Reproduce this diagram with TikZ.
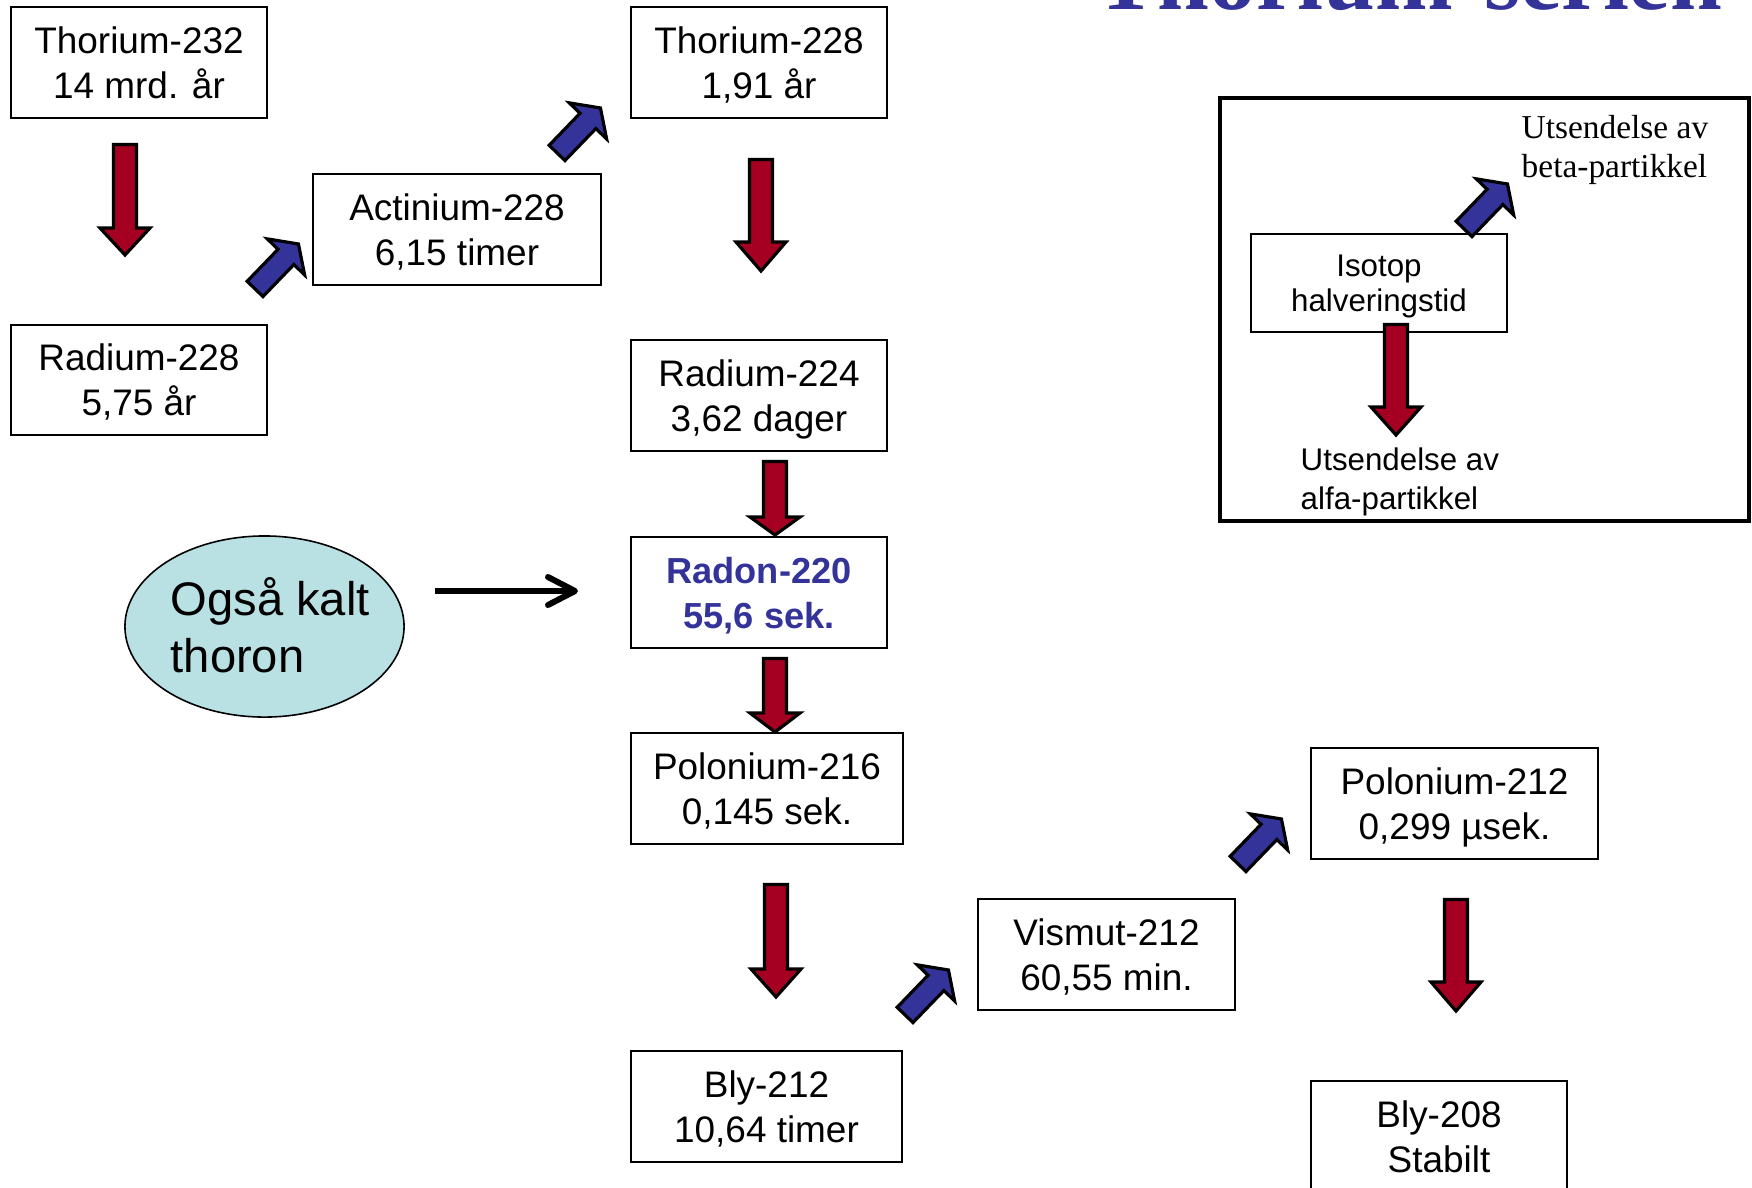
\documentclass[tikz,border=0pt]{standalone}
\usepackage{fontspec}
\setmainfont{Liberation Sans}
\newfontfamily\serifface{Liberation Serif}
\usetikzlibrary{shapes.geometric,calc}
\definecolor{arrowred}{HTML}{A50021}
\definecolor{arrowblue}{HTML}{333399}
\definecolor{ellfill}{HTML}{B9E0E3}
\newcommand{\tstrut}{\rule{0pt}{0.34cm}}
\newcommand{\bstrut}{\rule[-0.08cm]{0pt}{0.08cm}}
\newcommand{\tstrutsm}{\rule{0pt}{0.29cm}}
\newcommand{\bstrutsm}{\rule[-0.07cm]{0pt}{0.07cm}}
\tikzset{
  isobox/.style={draw=black, line width=0.6pt, fill=white, align=center, inner sep=0pt,
    font=\fontsize{10.5pt}{12.8pt}\selectfont, minimum height=1.11cm, minimum width=2.56cm},
  smallbox/.style={draw=black, line width=0.6pt, fill=white, align=center, inner sep=0pt,
    font=\fontsize{8.9pt}{10.2pt}\selectfont, minimum height=0.98cm, minimum width=2.56cm},
  redblock/.style={draw=black, fill=arrowred, line width=0.9pt},
  blueblock/.style={draw=black, fill=arrowblue, line width=0.9pt},
  linetext/.style={anchor=base west, inner sep=0pt},
}
\newcommand{\redarr}[4]{%
  \draw[redblock] (#1-11.5,#2) -- (#1+11.5,#2) -- (#1+11.5,#3) -- (#1+25,#3) -- (#1,#4)
    -- (#1-25,#3) -- (#1-11.5,#3) -- cycle;}
\newcommand{\bluearr}[2]{%
  \begin{scope}[shift={(#1,#2)}, rotate=46]
    \draw[blueblock] (1.5,-11) -- (46,-11) -- (46,-26) -- (64,0) -- (46,26) -- (46,11)
      -- (1.5,11) -- cycle;
  \end{scope}}
\begin{document}
\begin{tikzpicture}[x=0.01cm, y=-0.01cm]
\useasboundingbox (0,0) rectangle (1752,1187);
\clip (0,0) rectangle (1752,1187);

% title (cut off at top, as in the original)
\node[linetext, font=\serifface\bfseries\fontsize{26.5pt}{30pt}\selectfont, text=arrowblue] (title) at (1095,9) {Thorium-serien};

% isotope boxes
\node[isobox] (th232) at (139,62.5) {\tstrut Thorium-232\\14 mrd. år\bstrut};
\node[isobox, minimum height=1.10cm] (ra228) at (139,380) {\tstrut Radium-228\\5,75 år\bstrut};
\node[isobox, minimum width=2.88cm] (ac228) at (457,229.5) {\tstrut Actinium-228\\6,15 timer\bstrut};
\node[isobox] (th228) at (759,62.5) {\tstrut Thorium-228\\1,91 år\bstrut};
\node[isobox] (ra224) at (759,395.5) {\tstrut Radium-224\\3,62 dager\bstrut};
\node[isobox, text=arrowblue, font=\bfseries\fontsize{10.3pt}{12.8pt}\selectfont] (rn220) at (759,592.5) {\tstrut Radon-220\\55,6 sek.\bstrut};
\node[isobox, minimum width=2.72cm] (po216) at (767,788.5) {\tstrut Polonium-216\\0,145 sek.\bstrut};
\node[isobox, minimum width=2.71cm] (pb212) at (766.5,1106.5) {\tstrut Bly-212\\10,64 timer\bstrut};
\node[isobox, minimum width=2.56cm] (bi212) at (1106.5,954.5) {\tstrut Vismut-212\\60,55 min.\bstrut};
\node[isobox, minimum width=2.87cm] (po212) at (1454.5,803.5) {\tstrut Polonium-212\\0,299 µsek.\bstrut};
\node[isobox] (pb208) at (1439,1136.5) {\tstrut Bly-208\\Stabilt\bstrut};

% thoron ellipse
\node[ellipse, draw=black, line width=0.45pt, fill=ellfill, minimum width=2.79cm, minimum height=1.81cm, inner sep=0pt] (thoron) at (264.5,626.5) {};
\node[linetext, font=\fontsize{13.4pt}{15.6pt}\selectfont] (thA) at (170,615) {Også kalt};
\node[linetext, font=\fontsize{13.4pt}{15.6pt}\selectfont] (thB) at (170,672) {thoron};
\coordinate (thS) at (435,591);
\coordinate (thE) at (575,591);
\draw[line width=1.7pt] (thS) -- (thE);
\draw[line width=1.7pt, line cap=round, line join=round] ($(thE)+(-27,-14)$) -- (thE) -- ($(thE)+(-27,14)$);

% legend
\node[draw=black, line width=1.2pt, minimum width=5.29cm, minimum height=4.23cm, inner sep=0pt] (legend) at (1484.5,309.5) {};
\node[smallbox] (iso) at (1379,283) {\tstrutsm Isotop\\halveringstid\bstrutsm};
\node[linetext, font=\serifface\fontsize{9.5pt}{11pt}\selectfont] (betaA) at (1521,138) {Utsendelse av};
\node[linetext, font=\serifface\fontsize{9.5pt}{11pt}\selectfont] (betaB) at (1521,177) {beta-partikkel};
\node[linetext, font=\fontsize{8.9pt}{10.8pt}\selectfont] (alfaA) at (1300,470) {Utsendelse av};
\node[linetext, font=\fontsize{8.9pt}{10.8pt}\selectfont] (alfaB) at (1300,509) {alfa-partikkel};

% alpha (red) arrows
\redarr{125}{144.5}{228}{255}
\redarr{761}{159.5}{242}{271}
\redarr{775}{461.5}{517}{535}
\redarr{775}{658.5}{713}{732}
\redarr{776}{884.5}{969}{997}
\redarr{1456}{899.5}{982}{1011}
\redarr{1396}{324.5}{407}{435}

% beta (blue) arrows
\bluearr{254}{290}
\bluearr{556}{154}
\bluearr{904}{1016}
\bluearr{1237}{865}
\bluearr{1463}{230}
\end{tikzpicture}
\end{document}
